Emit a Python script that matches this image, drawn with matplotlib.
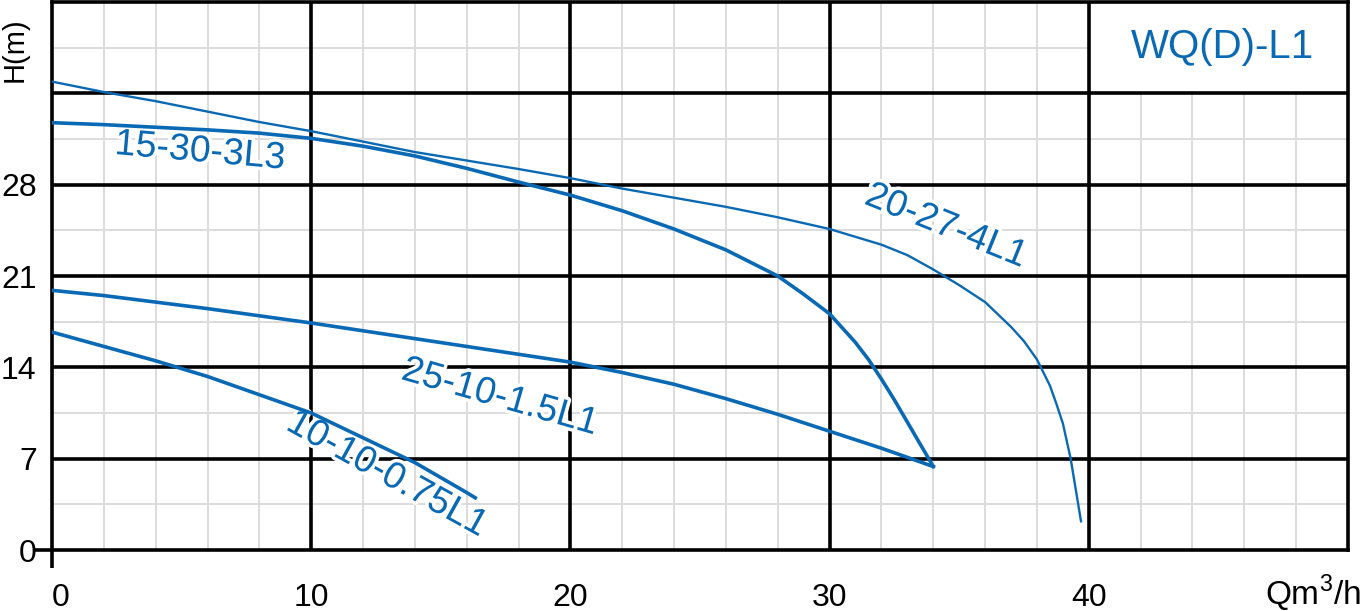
import numpy as np
import matplotlib
matplotlib.use('Agg')
import matplotlib.pyplot as plt
import matplotlib.patheffects as pe

plt.rcParams['font.family'] = ['Liberation Sans', 'DejaVu Sans']

blue = '#0a69b4'

# pump curves, Q (m3/h) vs H (m)
q_15_30 = [0, 2, 4, 6, 8, 10, 12, 14, 16, 18, 20, 22, 24, 26, 28, 29, 30, 31, 31.5, 32, 32.5, 33, 33.5, 34]
h_15_30 = [32.75, 32.6, 32.4, 32.2, 31.95, 31.55, 30.95, 30.2, 29.25, 28.2, 27.2, 26.0, 24.6, 23.0,
           21.0, 19.6, 18.1, 15.9, 14.6, 13.1, 11.5, 9.8, 8.1, 6.4]

q_20_27 = [0, 2, 4, 6, 8, 10, 14, 18, 20, 22, 24, 26, 28, 30, 32, 33, 34, 35, 36, 37, 37.5, 38,
           38.5, 38.75, 39, 39.3, 39.7]
h_20_27 = [35.9, 35.1, 34.4, 33.6, 32.8, 32.1, 30.5, 29.2, 28.5, 27.7, 27.0, 26.3, 25.5, 24.6, 23.4,
           22.6, 21.5, 20.3, 19.0, 17.1, 16.0, 14.6, 12.6, 11.2, 9.7, 7.0, 2.2]

q_25_10 = [0, 2, 4, 6, 8, 10, 12, 14, 16, 18, 20, 22, 24, 26, 28, 30, 32, 34]
h_25_10 = [19.9, 19.5, 19.0, 18.5, 17.95, 17.4, 16.8, 16.2, 15.6, 15.0, 14.4, 13.6, 12.7, 11.6,
           10.4, 9.1, 7.8, 6.4]

q_10_10 = [0, 2, 4, 6, 8, 10, 12, 14, 16, 16.33]
h_10_10 = [16.7, 15.6, 14.5, 13.3, 11.9, 10.5, 8.6, 6.7, 4.4, 4.0]

x_ticks = [0, 10, 20, 30, 40]
y_ticks = [0, 7, 14, 21, 28]

fig = plt.figure(figsize=(13.62, 6.11), dpi=100)
ax = fig.add_axes([52/1362, 61/611, 1296/1362, 548/611])
ax.set_xlim(0, 50)
ax.set_ylim(0, 42)

# fine grid (left out in the title box, top right)
for x in np.arange(2, 50, 2):
    if x % 10 == 0:
        continue
    top = 35 if x > 40 else 42
    ax.plot([x, x], [0, top], color='#dcdcdc', lw=1.4, zorder=1)
for y in np.arange(3.5, 42, 7):
    right = 40 if y > 35 else 50
    ax.plot([0, right], [y, y], color='#dcdcdc', lw=1.4, zorder=1)

# heavy grid
for x in [10, 20, 30, 40]:
    ax.axvline(x, color='black', lw=2.6, zorder=2)
for y in [7, 14, 21, 28, 35]:
    ax.axhline(y, color='black', lw=2.6, zorder=2)
for s in ax.spines.values():
    s.set_linewidth(2.6)
    s.set_zorder(2)

# little stubs at the origin
ax.plot([0, 0], [0, -1.38], color='black', lw=2.6, clip_on=False, solid_capstyle='butt')
ax.plot([-0.66, 0], [0, 0], color='black', lw=2.6, clip_on=False, solid_capstyle='butt')

ax.plot(q_15_30, h_15_30, color=blue, lw=2.6, zorder=5)
ax.plot(q_20_27, h_20_27, color=blue, lw=1.7, zorder=5)
ax.plot(q_25_10, h_25_10, color=blue, lw=2.6, zorder=5)
ax.plot(q_10_10, h_10_10, color=blue, lw=2.6, zorder=5)

halo = [pe.withStroke(linewidth=5, foreground='white')]
labels = [('15-30-3L3', 5.71, 30.55, -5),
          ('20-27-4L1', 34.49, 24.83, -22),
          ('25-10-1.5L1', 17.28, 11.72, -16),
          ('10-10-0.75L1', 12.92, 5.82, -29)]
for txt, x, y, rot in labels:
    ax.text(x, y, txt, color=blue, fontsize=27, rotation=rot, rotation_mode='anchor',
            ha='center', va='center', path_effects=halo, zorder=4)

ax.text(45.14, 38.54, 'WQ(D)-L1', color=blue, fontsize=29, ha='center', va='center')

ax.set_xticks(x_ticks)
ax.set_yticks(y_ticks)
ax.tick_params(length=0, labelsize=23)
ax.tick_params(axis='x', pad=24)
ax.tick_params(axis='y', pad=11)
ax.get_xticklabels()[0].set_ha('left')

fig.text(15/1362, 1 - 50/611, 'H(m)', rotation=90, fontsize=21, ha='center', va='center')
fig.text(1361/1362, 1 - 593/611, r'Qm$^\mathregular{3}$/h', fontsize=24, ha='right', va='center')

fig.savefig('out.png', dpi=100)
